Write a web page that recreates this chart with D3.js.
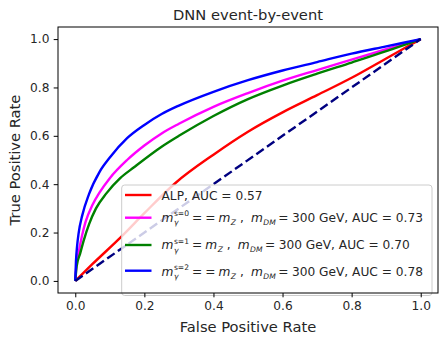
<!DOCTYPE html>
<html><head><meta charset="utf-8">
<script src="https://cdn.jsdelivr.net/npm/d3@7"></script>
<style>
body{margin:0;background:#fff;}
text{font-family:"DejaVu Sans",sans-serif;fill:#262626;}
</style></head>
<body><svg id="c" width="445" height="343"></svg>
<script>
const title = "DNN event-by-event";
const xLabel = "False Positive Rate";
const yLabel = "True Positive Rate";
const tickValues = [0.0, 0.2, 0.4, 0.6, 0.8, 1.0];

const alpFPR = [0, 0.05, 0.135, 0.2, 0.29, 0.4, 0.5, 0.6, 0.7, 0.8, 0.9, 1];
const alpTPR = [0, 0.07, 0.185, 0.28, 0.405, 0.522, 0.617, 0.697, 0.768, 0.84, 0.92, 1];

const s0FPR = [0, 0.003, 0.01, 0.02, 0.03, 0.05, 0.07, 0.1, 0.15, 0.2, 0.25, 0.3, 0.4, 0.5, 0.6, 0.7, 0.8, 0.9, 1];
const s0TPR = [0, 0.06, 0.12, 0.19, 0.245, 0.315, 0.365, 0.425, 0.5, 0.56, 0.61, 0.65, 0.72, 0.777, 0.828, 0.872, 0.915, 0.958, 1];

const s1FPR = [0, 0.004, 0.014, 0.025, 0.04, 0.06, 0.09, 0.13, 0.17, 0.25, 0.3, 0.4, 0.5, 0.6, 0.7, 0.8, 0.9, 1];
const s1TPR = [0, 0.06, 0.113, 0.17, 0.235, 0.3, 0.362, 0.425, 0.47, 0.555, 0.6, 0.682, 0.752, 0.808, 0.857, 0.903, 0.95, 1];

const s2FPR = [0, 0.002, 0.005, 0.01, 0.02, 0.04, 0.07, 0.1, 0.15, 0.2, 0.25, 0.3, 0.4, 0.5, 0.6, 0.7, 0.8, 0.9, 1];
const s2TPR = [0, 0.08, 0.14, 0.2, 0.27, 0.36, 0.45, 0.51, 0.59, 0.645, 0.69, 0.725, 0.782, 0.83, 0.87, 0.905, 0.94, 0.97, 1];

const diagFPR = [0, 1];
const diagTPR = [0, 1];

const seriesColors = ["#ff0000", "#ff00ff", "#008000", "#0000ff"];
const aucs = ["0.57", "0.73", "0.70", "0.78"];

const svg = d3.select("#c");
const L = 58, R = 438, T = 27, B = 293;
const x = d3.scaleLinear().domain([-0.05, 1.05]).range([L, R]);
const y = d3.scaleLinear().domain([-0.05, 1.05]).range([B, T]);

const series = [
  {fx: alpFPR, ty: alpTPR, c: seriesColors[0]},
  {fx: s0FPR, ty: s0TPR, c: seriesColors[1]},
  {fx: s1FPR, ty: s1TPR, c: seriesColors[2]},
  {fx: s2FPR, ty: s2TPR, c: seriesColors[3]}
];
const line = d3.line().x(d => x(d[0])).y(d => y(d[1])).curve(d3.curveMonotoneX);
series.forEach(s => {
  svg.append("path").attr("d", line(s.fx.map((v, i) => [v, s.ty[i]])))
    .attr("fill", "none").attr("stroke", s.c).attr("stroke-width", 2.4)
    .attr("stroke-linejoin", "round").attr("stroke-linecap", "butt");
});
svg.append("path").attr("d", d3.line().x(d => x(d[0])).y(d => y(d[1]))(diagFPR.map((v, i) => [v, diagTPR[i]])))
  .attr("fill", "none").attr("stroke", "#000080").attr("stroke-width", 2.4)
  .attr("stroke-dasharray", "9,4");

// legend
const lg = svg.append("g");
lg.append("rect").attr("x", 121.7).attr("y", 185).attr("width", 310.3).attr("height", 110.5)
  .attr("rx", 3).attr("fill", "#fff").attr("fill-opacity", 0.8).attr("stroke", "#cccccc").attr("stroke-width", 1);

const rowHandleY = [195, 217.7, 245, 270.7];
const rowBase = [200, 221.7, 249, 275.7];
const tx0 = 161.5;
rowHandleY.forEach((hy, i) => {
  lg.append("line").attr("x1", 125).attr("x2", 151.5).attr("y1", hy).attr("y2", hy)
    .attr("stroke", seriesColors[i]).attr("stroke-width", 2.4);
});
const FS = 12.2, SS = 7.6;
function drawRich(pieces, base) {
  let cx = tx0;
  let stackStart = null, stackMax = 0;
  pieces.forEach(p => {
    if (p.gap) cx += p.gap;
    const t = lg.append("text").attr("x", p.stackSecond ? stackStart : cx).attr("y", base + (p.dy || 0))
      .attr("font-size", p.s || FS).attr("font-style", p.it ? "italic" : "normal").text(p.t);
    const w = t.node().getComputedTextLength();
    if (p.stackFirst) { stackStart = cx; stackMax = w; }
    else if (p.stackSecond) { cx = stackStart + Math.max(stackMax, w); }
    else cx += w;
  });
}
drawRich([{t: "ALP, AUC = " + aucs[0]}], rowBase[0]);
const supers = ["s=0", "s=1", "s=2"];
const doubles = [true, false, true];
[1, 2, 3].forEach(i => {
  const k = i - 1;
  const pieces = [
    {t: "m", it: true},
    {t: "γ", it: true, s: SS, dy: 3.6, stackFirst: true, gap: 0.5},
    {t: supers[k], s: SS, dy: -5.4, stackSecond: true},
    {t: "=", gap: 3}
  ];
  if (doubles[k]) pieces.push({t: "=", gap: 3});
  pieces.push({t: "m", it: true, gap: 3});
  pieces.push({t: "Z", it: true, s: SS, dy: 3.2, gap: 0.5});
  pieces.push({t: ",", gap: 4});
  pieces.push({t: "m", it: true, gap: 7});
  pieces.push({t: "DM", it: true, s: SS, dy: 3.2, gap: 0.5});
  pieces.push({t: "=", gap: 2.5});
  pieces.push({t: "300 GeV, AUC = " + aucs[i], gap: 3.5});
  drawRich(pieces, rowBase[i]);
});

// axes
const xAxis = svg.append("g").attr("transform", `translate(0,${B})`)
  .call(d3.axisBottom(x).tickValues(tickValues).tickFormat(d3.format(".1f")).tickSize(4.3).tickPadding(4.3));
const yAxis = svg.append("g").attr("transform", `translate(${L},0)`)
  .call(d3.axisLeft(y).tickValues(tickValues).tickFormat(d3.format(".1f")).tickSize(4.3).tickPadding(4.3));
[xAxis, yAxis].forEach(a => {
  a.select(".domain").remove();
  a.selectAll("line").attr("stroke", "#000").attr("stroke-width", 1);
  a.selectAll("text").attr("font-size", 12.2).attr("font-family", "DejaVu Sans").attr("fill", "#262626");
});
svg.append("rect").attr("x", L).attr("y", T).attr("width", R - L).attr("height", B - T)
  .attr("fill", "none").attr("stroke", "#000").attr("stroke-width", 1);

svg.append("text").attr("x", (L + R) / 2).attr("y", 20).attr("text-anchor", "middle")
  .attr("font-size", 14.7).text(title);
svg.append("text").attr("x", (L + R) / 2).attr("y", 332).attr("text-anchor", "middle")
  .attr("font-size", 14.7).text(xLabel);
svg.append("text").attr("transform", `translate(20,${(T + B) / 2}) rotate(-90)`).attr("text-anchor", "middle")
  .attr("font-size", 14.7).text(yLabel);
</script></body></html>
